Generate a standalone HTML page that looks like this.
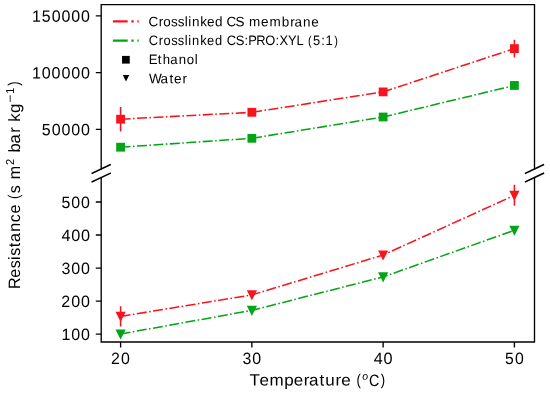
<!DOCTYPE html>
<html><head><meta charset="utf-8"><title>Resistance vs Temperature</title><style>
html,body{margin:0;padding:0;background:#fff;}
body{width:550px;height:394px;overflow:hidden;font-family:"Liberation Sans",sans-serif;}
svg{display:block;will-change:transform;}
text{text-rendering:geometricPrecision;font-kerning:none;}
</style></head><body>
<svg width="550" height="394" viewBox="0 0 550 394">
<path d="M101.2,169.0 V4.6 H534.5 V169.0" fill="none" stroke="#000" stroke-width="1.35" stroke-linecap="square" stroke-linejoin="miter"/>
<path d="M101.2,177.6 V342.0 H534.5 V177.6" fill="none" stroke="#000" stroke-width="1.35" stroke-linecap="square" stroke-linejoin="miter"/>
<path d="M95.80,15.80H101.2M95.80,72.55H101.2M95.80,129.30H101.2M95.80,202.00H101.2M95.80,235.03H101.2M95.80,268.05H101.2M95.80,301.08H101.2M95.80,334.10H101.2M120.60,342.0V347.40M251.87,342.0V347.40M383.14,342.0V347.40M514.41,342.0V347.40" stroke="#000" stroke-width="1.35" fill="none"/>
<path d="M92.30,173.20L110.10,164.80M92.30,181.80L110.10,173.40M525.60,173.20L543.40,164.80M525.60,181.80L543.40,173.40" stroke="#000" stroke-width="1.6" stroke-linecap="square" fill="none"/>
<g font-family="Liberation Sans, sans-serif" fill="#000" transform="matrix(1,0.0005,0,1,0,0)"><text transform="translate(36.65,21.67) scale(0.9782,1)" x="-4.76 5.27 15.35 25.37 35.38 45.40" y="0" font-size="16.32">150000</text><text transform="translate(36.65,78.42) scale(0.9876,1)" x="-4.76 5.24 15.16 25.08 35.00 44.92" y="0" font-size="16.32">100000</text><text transform="translate(46.23,135.17) scale(0.9834,1)" x="-4.52 5.50 15.46 25.43 35.39" y="0" font-size="16.32">50000</text><text transform="translate(65.83,207.86) scale(0.9759,1)" x="-4.52 5.58 15.62" y="0" font-size="16.32">500</text><text transform="translate(65.85,240.89) scale(0.9945,1)" x="-4.49 5.37 15.22" y="0" font-size="16.32">400</text><text transform="translate(65.88,273.91) scale(0.9814,1)" x="-4.49 5.47 15.45" y="0" font-size="16.32">300</text><text transform="translate(65.70,306.94) scale(0.9829,1)" x="-4.54 5.64 15.60" y="0" font-size="16.32">200</text><text transform="translate(66.04,339.96) scale(0.9806,1)" x="-4.76 5.31 15.30" y="0" font-size="16.32">100</text><text transform="translate(115.49,363.94) scale(0.9769,1)" x="-4.54 5.70" y="0" font-size="16.32">20</text><text transform="translate(246.94,363.87) scale(0.9748,1)" x="-4.49 5.54" y="0" font-size="16.32">30</text><text transform="translate(378.18,363.81) scale(0.9945,1)" x="-4.49 5.37" y="0" font-size="16.32">40</text><text transform="translate(509.43,363.74) scale(0.9666,1)" x="-4.52 5.67" y="0" font-size="16.32">50</text><text transform="translate(254.80,385.45) scale(1.0431,1)" x="-4.98 4.54 14.02 28.20 37.38 47.01 51.91 62.13 67.44 77.27 82.79" y="0" font-size="16.32">Temperature</text><text transform="translate(359.08,384.59) scale(0.8500,1)" x="-3.01" y="0" font-size="15.45">(</text><text transform="translate(365.10,379.57) scale(0.9977,1)" x="-2.92" y="0" font-size="10.49" font-style="italic">o</text><text transform="translate(374.36,385.41) scale(0.8758,1)" x="-6.00" y="0" font-size="16.32">C</text><text transform="translate(382.66,384.58) scale(0.8500,1)" x="-2.14" y="0" font-size="15.45">)</text><g transform="translate(20.0,288.8) rotate(-90)"><text transform="translate(5.94,0.00) scale(0.9728,1)" x="-6.25 5.36 14.99 23.56 27.76 36.73 41.92 52.51 62.21 71.28 92.22 106.44" y="0" font-size="16.48">Resistancesm</text><text transform="translate(92.51,-0.83) scale(0.8500,1)" x="-3.04" y="0" font-size="15.60">(</text><text transform="translate(126.96,-5.80) scale(0.9586,1)" x="-3.21" y="0" font-size="11.54">2</text><text transform="translate(141.12,0.00) scale(1.0102,1)" x="-4.77 4.15 14.75 25.71 34.39" y="0" font-size="16.48">barkg</text><text transform="translate(190.14,-5.80) scale(1.2155,1)" x="-3.37" y="0" font-size="11.54">−</text><text transform="translate(198.24,-5.80) scale(0.9498,1)" x="-3.37" y="0" font-size="11.54">1</text><text transform="translate(205.00,-0.83) scale(0.8500,1)" x="-2.16" y="0" font-size="15.60">)</text></g><text transform="translate(153.52,26.24) scale(0.9875,1)" x="-5.02 5.21 9.83 17.70 24.51 31.53 35.17 38.86 47.24 54.12 62.18 73.91 83.14 96.63 108.89 117.39 129.84 138.37 142.79 151.45 159.61" y="0" font-size="13.67">CrosslinkedCSmembrane</text><text transform="translate(153.52,45.23) scale(0.9443,1)" x="-5.02 5.57 10.45 18.66 25.78 33.04 36.85 40.81 49.58 56.77 65.19 77.52 87.15 96.38 100.37 108.85 118.37 129.22 133.52 142.39 151.43 168.89 177.50 182.18" y="0" font-size="13.67">CrosslinkedCS:PRO:XYL5:1</text><text transform="translate(310.06,44.50) scale(0.8500,1)" x="-2.52 28.47" y="0" font-size="12.94">()</text><text transform="translate(153.30,64.26) scale(0.9653,1)" x="-4.83 4.68 9.68 17.50 26.36 34.65 42.88" y="0" font-size="13.67">Ethanol</text><text transform="translate(155.38,83.26) scale(0.9936,1)" x="-6.46 5.27 14.15 18.85 27.26" y="0" font-size="13.67">Water</text></g>
<polyline points="120.60,147.20 251.87,138.30 383.14,117.00 514.41,85.45" fill="none" stroke="#03a516" stroke-width="1.54" stroke-dasharray="9.946 2.486 1.554 2.486" stroke-linejoin="round"/>
<polyline points="120.60,119.20 251.87,112.30 383.14,91.90 514.41,48.60" fill="none" stroke="#f8141c" stroke-width="1.54" stroke-dasharray="9.946 2.486 1.554 2.486" stroke-linejoin="round"/>
<polyline points="120.60,334.00 251.87,310.40 383.14,276.90 514.41,230.30" fill="none" stroke="#03a516" stroke-width="1.54" stroke-dasharray="9.946 2.486 1.554 2.486" stroke-linejoin="round"/>
<polyline points="120.60,316.40 251.87,294.90 383.14,255.00 514.41,195.30" fill="none" stroke="#f8141c" stroke-width="1.54" stroke-dasharray="9.946 2.486 1.554 2.486" stroke-linejoin="round"/>
<path d="M120.60,106.90V131.50M514.41,39.70V57.50M120.60,306.20V326.60M514.41,184.80V205.80" stroke="#f8141c" stroke-width="1.54" fill="none"/>
<rect x="116.20" y="142.80" width="8.80" height="8.80" fill="#03a516"/>
<rect x="247.47" y="133.90" width="8.80" height="8.80" fill="#03a516"/>
<rect x="378.74" y="112.60" width="8.80" height="8.80" fill="#03a516"/>
<rect x="510.01" y="81.05" width="8.80" height="8.80" fill="#03a516"/>
<rect x="116.20" y="114.80" width="8.80" height="8.80" fill="#f8141c"/>
<rect x="247.47" y="107.90" width="8.80" height="8.80" fill="#f8141c"/>
<rect x="378.74" y="87.50" width="8.80" height="8.80" fill="#f8141c"/>
<rect x="510.01" y="44.20" width="8.80" height="8.80" fill="#f8141c"/>
<path d="M120.60,337.85L116.75,330.15L124.45,330.15Z" fill="#03a516" stroke="#03a516" stroke-width="1.54" stroke-linejoin="miter"/>
<path d="M251.87,314.25L248.02,306.55L255.72,306.55Z" fill="#03a516" stroke="#03a516" stroke-width="1.54" stroke-linejoin="miter"/>
<path d="M383.14,280.75L379.29,273.05L386.99,273.05Z" fill="#03a516" stroke="#03a516" stroke-width="1.54" stroke-linejoin="miter"/>
<path d="M514.41,234.15L510.56,226.45L518.26,226.45Z" fill="#03a516" stroke="#03a516" stroke-width="1.54" stroke-linejoin="miter"/>
<path d="M120.60,320.25L116.75,312.55L124.45,312.55Z" fill="#f8141c" stroke="#f8141c" stroke-width="1.54" stroke-linejoin="miter"/>
<path d="M251.87,298.75L248.02,291.05L255.72,291.05Z" fill="#f8141c" stroke="#f8141c" stroke-width="1.54" stroke-linejoin="miter"/>
<path d="M383.14,258.85L379.29,251.15L386.99,251.15Z" fill="#f8141c" stroke="#f8141c" stroke-width="1.54" stroke-linejoin="miter"/>
<path d="M514.41,199.15L510.56,191.45L518.26,191.45Z" fill="#f8141c" stroke="#f8141c" stroke-width="1.54" stroke-linejoin="miter"/>
<path d="M112.9,21.45H138.7" stroke="#f8141c" stroke-width="2.31" stroke-dasharray="14.78 3.70 2.31 3.70" fill="none"/>
<path d="M112.9,40.55H138.7" stroke="#03a516" stroke-width="2.31" stroke-dasharray="14.78 3.70 2.31 3.70" fill="none"/>
<rect x="122.05" y="55.90" width="7.7" height="7.7" fill="#000"/>
<path d="M126.0,81.6L122.8,75.0L129.2,75.0Z" fill="#000"/>
</svg>
</body></html>
